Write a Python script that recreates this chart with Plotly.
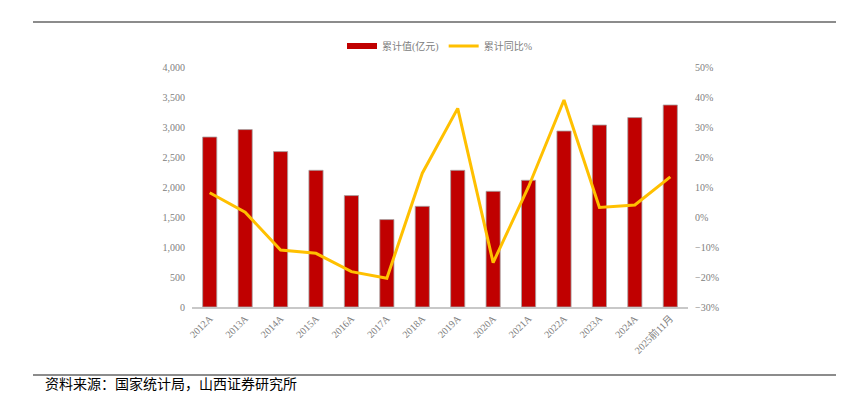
import plotly.graph_objects as go

categories = ["2012A", "2013A", "2014A", "2015A", "2016A", "2017A", "2018A",
              "2019A", "2020A", "2021A", "2022A", "2023A", "2024A", "2025前11月"]
cum_value = [2833, 2957, 2590, 2278, 1857, 1457, 1678,
             2278, 1928, 2112, 2933, 3033, 3157, 3367]
cum_yoy = [8.1, 1.6, -11.0, -12.1, -18.2, -20.4, 14.6,
           36.2, -15.2, 10.1, 39.0, 3.2, 4.0, 13.4]

serif = "Liberation Serif, Noto Sans CJK SC, serif"
gray = "#808080"
bar_color = "#C00000"
line_color = "#FFC000"

fig = go.Figure()
fig.add_trace(go.Bar(
    x=categories, y=cum_value, name="累计值(亿元)", showlegend=False,
    marker=dict(color=bar_color, line=dict(color="#a6a6a6", width=0.8)),
    yaxis="y",
))
# legend entry for bars drawn as a wide swatch
fig.add_trace(go.Scatter(
    x=[None], y=[None], name="累计值(亿元)", mode="lines",
    line=dict(color=bar_color, width=6), yaxis="y",
))
fig.add_trace(go.Scatter(
    x=categories, y=cum_yoy, name="累计同比%", mode="lines",
    line=dict(color=line_color, width=3),
    yaxis="y2",
))

# page body has an 8px margin, so the figure is offset by 8px
fig.update_layout(
    width=851, height=390,
    margin=dict(l=184, r=171, t=59, b=91, autoexpand=False),
    paper_bgcolor="white", plot_bgcolor="white",
    bargap=0.6,
    showlegend=True,
    legend=dict(orientation="h", x=0.5, xanchor="center", y=1.0875, yanchor="middle",
                font=dict(family=serif, size=10, color=gray), bgcolor="rgba(0,0,0,0)",
                itemwidth=30, tracegroupgap=0),
    xaxis=dict(
        type="category", tickangle=-45, showgrid=False, zeroline=False,
        showline=True, linecolor="#c8c8c8", linewidth=1.5, ticks="",
        tickfont=dict(family=serif, size=10, color=gray),
    ),
    yaxis=dict(
        range=[0, 4000], dtick=500, tickformat=",d", showgrid=False, zeroline=False,
        showline=False, ticks="", ticklabelstandoff=6,
        tickfont=dict(family=serif, size=10, color=gray),
    ),
    yaxis2=dict(
        range=[-30, 50], dtick=10, ticksuffix="%", overlaying="y", side="right",
        showgrid=False, zeroline=False, showline=False, ticks="", ticklabelstandoff=6,
        tickfont=dict(family=serif, size=10, color=gray),
    ),
    shapes=[
        dict(type="line", xref="paper", yref="paper", x0=-0.3206, x1=1.2984,
             y0=1.1875, y1=1.1875, line=dict(color="#666666", width=1.5)),
        dict(type="line", xref="paper", yref="paper", x0=-0.3206, x1=1.2984,
             y0=-0.2833, y1=-0.2833, line=dict(color="#666666", width=1.5)),
    ],
    annotations=[
        dict(text="资料来源：国家统计局，山西证券研究所", xref="paper", yref="paper",
             x=-0.3004, y=-0.368, xanchor="left", yanchor="bottom", showarrow=False,
             font=dict(family="Noto Sans CJK SC", size=14, color="#000000")),
    ],
)

fig.write_html("out.html")
